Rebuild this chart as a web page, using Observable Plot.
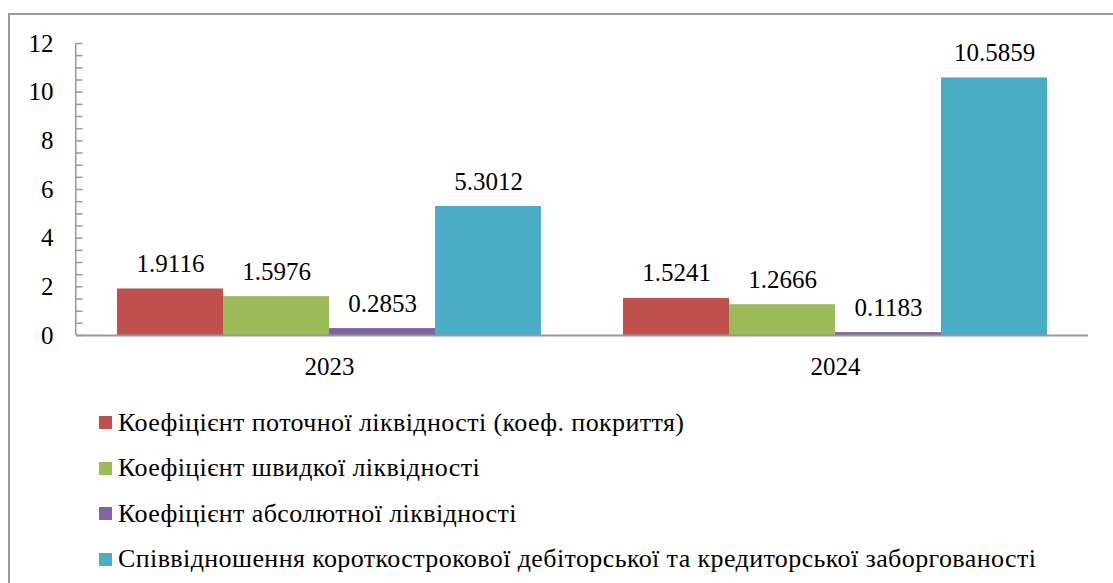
<!DOCTYPE html>
<html><head><meta charset="utf-8">
<script src="https://cdn.jsdelivr.net/npm/d3@7"></script>
<script src="https://cdn.jsdelivr.net/npm/@observablehq/plot@0.6"></script>
<style>
body{margin:0;background:#fff;width:1113px;height:583px;overflow:hidden;position:relative;font-family:"Liberation Serif","Tinos","Times New Roman","DejaVu Serif",serif;}
#border{position:absolute;left:8px;top:13px;width:1200px;height:700px;border-left:2px solid #9a9a9a;border-top:2px solid #9a9a9a;}
#chart{position:absolute;left:0;top:0;}
#legend{position:absolute;left:99px;top:400px;}
.item{display:flex;align-items:center;height:45.5px;font-size:26px;letter-spacing:0.4px;color:#000;white-space:nowrap;}
.sw{width:13px;height:13px;margin-right:6px;flex:none;}
</style></head><body>
<div id="border"></div><div id="chart"></div><div id="legend"></div>
<script>
const years = ["2023", "2024"];
const series = [
  "Коефіцієнт поточної ліквідності (коеф. покриття)",
  "Коефіцієнт швидкої ліквідності",
  "Коефіцієнт абсолютної ліквідності",
  "Співвідношення короткострокової дебіторської та кредиторської заборгованості"
];
const colors = ["#C0504D", "#9BBB59", "#8064A2", "#4BACC6"];
const values2023 = [1.9116, 1.5976, 0.2853, 5.3012];
const values2024 = [1.5241, 1.2666, 0.1183, 10.5859];
const yTickLabels = [0, 2, 4, 6, 8, 10, 12];
const yMinorStep = 0.5;

const valuesByYear = [values2023, values2024];
const data = [];
years.forEach((yr, i) => series.forEach((s, j) => data.push({year: yr, series: s, value: valuesByYear[i][j]})));
const minorTicks = d3.range(0, 12 + 1e-9, yMinorStep);

const W = 1113, H = 390, ML = 75, MR = 25, MT = 43, MB = 55;
const facetW = (W - ML - MR) / years.length;
const axisColor = "#989898";
const fmt = d3.format(".4f");
const FONT = "'Liberation Serif','Tinos','Times New Roman','DejaVu Serif',serif";

const chart = Plot.plot({
  width: W, height: H,
  marginLeft: ML, marginRight: MR, marginTop: MT, marginBottom: MB,
  style: {fontFamily: FONT, fontSize: "25px", color: "#000", background: "transparent", overflow: "visible"},
  fx: {domain: years, padding: 0, label: null},
  x: {domain: series, paddingInner: 0, paddingOuter: 0.37, axis: null},
  y: {domain: [0, 12], label: null},
  color: {domain: series, range: colors},
  marks: [
    Plot.barY(data, {fx: "year", x: "series", y: "value", fill: "series"}),
    Plot.text(data, {fx: "year", x: "series", y: "value", text: d => fmt(d.value), dy: -25, fontSize: 25, fill: "#000"}),
    Plot.ruleY([0], {stroke: axisColor, strokeWidth: 2}),
    Plot.barY([0], {fx: () => years[0], y1: 0, y2: 12, fill: axisColor, insetLeft: -1, insetRight: facetW - 1}),
    Plot.ruleY(minorTicks, {y: d => d, fx: () => years[0], stroke: axisColor, strokeWidth: 1.5, insetRight: facetW - 7}),
    Plot.axisY({ticks: yTickLabels, tickSize: 0, tickPadding: 23, tickFormat: d => String(d), label: null, fontSize: 25}),
    Plot.axisFx({anchor: "bottom", tickSize: 0, tickPadding: 22, label: null, fontSize: 25})
  ]
});
document.getElementById("chart").appendChild(chart);

const legend = document.getElementById("legend");
series.forEach((s, i) => {
  const row = document.createElement("div");
  row.className = "item";
  const sw = document.createElement("span");
  sw.className = "sw";
  sw.style.background = colors[i];
  const t = document.createElement("span");
  t.textContent = s;
  row.appendChild(sw); row.appendChild(t);
  legend.appendChild(row);
});
</script>
</body></html>
